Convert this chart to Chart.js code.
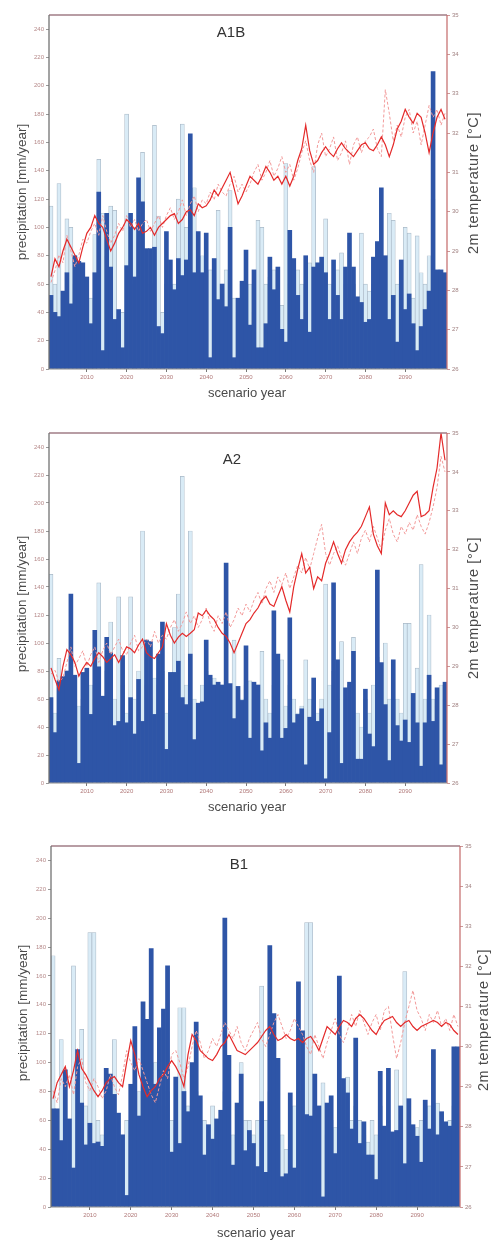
<!DOCTYPE html>
<html><head><meta charset="utf-8">
<script src="https://cdn.jsdelivr.net/npm/chart.js@4.4.1/dist/chart.umd.min.js"></script>
<style>
body{margin:0;background:#fff;}
.p{position:absolute;left:0;width:494px;}
canvas{display:block;}
</style></head><body>
<div class="p" style="top:0;height:400px"><canvas id="c1" width="494" height="400"></canvas></div>
<div class="p" style="top:400px;height:420px"><canvas id="c2" width="494" height="420"></canvas></div>
<div class="p" style="top:820px;height:421px"><canvas id="c3" width="494" height="421"></canvas></div>
<script>
// ---------- categories & tick labels ----------
const years = [];
for (let y = 2001; y <= 2100; y++) years.push(y);
const decadeTicks = [2010, 2020, 2030, 2040, 2050, 2060, 2070, 2080, 2090];
const precipTicks = [0, 20, 40, 60, 80, 100, 120, 140, 160, 180, 200, 220, 240];
const tempTicks = [26, 27, 28, 29, 30, 31, 32, 33, 34, 35];

// ---------- A1B ----------
const a1bPrecipRun1 = [
 52, 40, 37, 55, 68, 46, 80, 76, 75, 65,
 32, 68,125, 13,110, 72, 35, 42, 15, 73,
110, 65,135,118, 85, 85, 86, 30, 25, 97,
 77, 56, 78, 66, 77,166, 68, 97, 68, 96,
  8, 78, 49, 60, 44,100,  8, 50, 62, 84,
 31, 70, 15, 15, 32, 79, 56, 72, 28, 19,
 98, 78, 52, 35, 80, 26, 72, 75, 79, 68,
 35, 77, 52, 35, 72, 96, 72, 51, 47, 33,
 35, 79, 90,128, 80, 35, 52, 19, 77, 42,
 53, 32, 13, 30, 42, 55,210, 70, 70, 68];
const a1bPrecipRun2 = [
115, 60,131, 50,106,100, 60, 70, 55, 45,
 50, 95,148,110, 80,115,112, 30, 40,180,
 60,100, 90,153, 70, 60,172,108, 40, 60,
 50, 60,120,173,100, 60,128, 55, 80, 40,
 70, 60,112, 50, 70,126, 50, 40, 60, 50,
 60, 40,105,100, 60, 65, 70, 50, 45,145,
 60, 50, 70, 60, 40, 75,143, 60, 50,106,
 60, 40, 70, 82, 60, 50, 60, 45, 96, 60,
 55, 60, 70, 60, 50,110,105, 60, 40,100,
 96, 50, 94, 68, 60, 80,120, 60, 50, 55];
const a1bTempRun1 = [
28.35,28.8,28.6,29.0,29.3,29.1,28.9,28.7,29.1,29.45,
29.6,29.9,29.7,29.6,29.3,29.0,29.2,29.45,29.6,29.8,
29.7,29.55,29.7,29.45,29.5,29.6,29.4,29.6,29.7,29.8,
29.9,29.95,29.7,29.8,30.0,30.05,29.9,30.2,30.1,30.15,
30.3,30.55,30.4,30.6,30.8,31.0,30.6,30.2,30.4,30.65,
30.9,30.8,30.7,30.9,31.15,31.0,30.8,30.9,30.7,30.9,
30.65,30.9,31.3,31.6,32.2,31.55,31.2,31.3,31.5,31.65,
31.5,31.4,31.6,31.75,31.6,31.5,31.4,31.55,31.7,31.75,
31.6,31.55,31.7,31.9,31.7,31.4,31.7,32.1,32.3,32.6,
32.4,32.25,32.5,32.4,32.0,31.5,32.0,32.4,32.6,32.35];
const a1bTempRun2 = [
28.2,28.5,28.9,28.7,29.4,29.0,28.6,28.9,29.3,29.2,
29.5,29.7,29.4,29.9,29.5,29.2,29.4,29.7,29.5,29.9,
29.6,29.8,29.5,29.7,29.8,29.5,29.7,29.9,29.6,29.9,
30.1,29.8,30.0,30.3,29.9,30.2,30.4,30.0,30.3,30.2,
30.5,30.3,30.7,30.5,30.4,30.7,30.9,30.5,30.7,30.5,
30.7,31.0,31.2,30.8,31.0,31.3,30.9,31.1,31.4,31.0,
31.2,30.8,31.1,31.5,31.8,31.3,31.0,31.7,32.0,31.4,
31.6,31.9,31.3,31.5,31.8,31.2,31.7,31.9,31.5,31.8,
31.9,32.1,31.6,31.4,33.1,32.5,31.8,32.2,31.9,32.4,
32.6,32.0,32.3,31.7,32.2,32.7,32.4,32.6,32.2,32.5];

// ---------- A2 ----------
const a2PrecipRun1 = [
 61, 36, 73, 76, 80,135, 77, 14, 79, 82,
 49,109, 83, 62,104, 93, 41, 44, 91, 43,
 61, 35, 74, 44,102,101, 49, 92,115, 24,
 79, 79, 87, 61, 56, 92, 31, 57, 58,102,
 77, 70, 72, 70,157, 71, 46, 69, 59, 98,
 32, 72, 70, 23, 43, 32,123, 92, 32, 39,
118, 43, 49, 53, 13, 47, 75, 44, 53,  3,
 36,143, 88, 14, 68, 72, 94, 17, 17, 67,
 35, 26,152, 86, 56, 16, 88, 41, 30, 45,
 29, 64, 43, 12, 43, 77, 44, 68, 13, 72];
const a2PrecipRun2 = [
149, 50, 89, 60, 70, 90, 60, 55, 60, 45,
 70, 60,143, 55, 80,115, 60,133, 70, 50,
133, 60, 80,180, 70, 60, 75, 70, 80, 50,
 60,111,135,219, 70,180, 60, 50, 70, 80,
 60, 75, 60, 70,100, 60,102, 50, 60, 70,
 73, 60, 50, 94, 60, 50, 70, 60, 88, 55,
 70, 60, 50, 55, 88, 60, 55, 50, 60,142,
 70, 80, 60,101, 60, 70,104, 50, 40, 60,
 50, 70, 90, 70,100, 60, 55, 60, 50,114,
114, 60, 82,156, 60,120, 60, 55, 70, 60];
const a2TempRun1 = [
28.96,28.66,28.4,29.0,29.43,29.3,29.1,28.75,28.95,29.1,
29.0,29.2,29.35,29.25,29.1,29.2,29.3,29.1,29.3,29.5,
29.45,29.35,29.55,29.7,29.35,29.25,29.2,29.35,29.5,30.1,
29.8,29.6,29.75,29.85,29.77,29.85,29.94,30.37,30.3,30.45,
30.3,30.2,30.0,29.85,29.77,29.6,29.35,29.6,29.85,30.1,
30.2,30.37,30.5,30.7,30.8,30.6,30.54,30.8,31.05,30.7,
30.4,31.05,31.5,31.9,31.4,31.55,31.0,31.3,31.2,31.65,
31.9,32.2,31.9,31.65,32.0,32.2,32.34,32.45,32.6,32.85,
33.1,32.4,32.1,31.9,33.2,32.9,33.0,32.9,32.85,33.0,
33.2,33.4,33.5,32.85,32.9,33.0,33.6,34.1,35.0,34.3];
const a2TempRun2 = [
28.8,28.9,28.6,28.7,29.1,29.5,29.0,29.2,29.4,29.0,
29.3,29.5,29.1,29.4,29.6,29.3,29.5,29.7,29.4,29.3,
29.6,29.8,29.4,29.5,29.7,29.5,29.9,29.6,29.8,29.7,
30.0,30.2,29.9,30.1,30.4,30.1,30.3,30.0,30.2,30.5,
30.1,29.9,30.3,30.1,30.4,30.0,30.2,30.5,30.3,30.6,
30.4,30.7,30.9,30.6,31.0,31.2,30.9,31.3,31.1,31.4,
31.0,31.3,31.6,31.4,31.8,31.5,31.9,32.3,32.65,31.9,
31.6,31.9,32.1,31.8,31.6,31.9,32.2,31.9,32.3,32.5,
32.2,32.6,32.3,32.0,32.5,32.8,32.4,32.2,32.6,32.4,
32.7,32.5,32.9,32.6,32.4,32.7,33.1,33.6,34.4,34.0];

// ---------- B1 ----------
const b1PrecipRun1 = [
 68, 68, 46, 95, 61, 27,109, 72, 43, 58,
 44, 45, 42, 96, 92, 78, 65, 50,  8, 85,
125, 63,142,130,179, 85,124,137,167, 38,
 90, 44, 80, 66,100,128, 77, 36, 57, 47,
 61, 67,200,105, 29, 72, 92, 39, 53, 44,
 28, 73, 24,181,134,103, 21, 23, 79, 27,
156,122, 64, 63, 92, 70,  7, 72, 77, 37,
160, 89, 79, 54,117, 44, 59, 36, 36, 19,
 94, 56, 96, 52, 53, 70, 30, 75, 57, 49,
 31, 74, 54,109, 50, 66, 59, 56,111,111];
const b1PrecipRun2 = [
174, 60,116, 50, 55,167, 60,123, 70,190,
190, 60, 50, 55, 70,116, 50, 40, 60, 55,
 70, 80, 60, 90, 70,100, 60, 70, 80, 60,
 55,138,138, 70, 60, 80, 50, 60, 50, 70,
 55, 60, 80, 60, 50, 70,100, 60, 60, 50,
 60,153, 60, 80, 70, 60, 50, 40, 60, 70,
 80, 60,197,197, 70, 60, 86, 50, 60, 55,
 70, 60, 90, 60, 70, 60, 50, 45, 60, 50,
 70, 55, 60, 50, 95, 60,163, 60, 50, 55,
 60, 50, 70, 60, 72, 60, 50, 60, 70, 60];
const b1TempRun1 = [
28.7,29.1,29.3,29.5,29.0,29.4,29.9,29.45,29.3,29.1,
28.9,28.75,28.9,29.1,29.2,29.25,29.1,29.0,29.6,30.15,
29.8,29.3,29.0,28.75,28.9,29.0,29.2,29.3,29.5,29.65,
29.5,29.3,29.0,29.8,30.3,30.15,29.9,29.8,29.7,29.65,
29.8,30.0,30.1,30.3,30.1,29.9,29.85,29.8,29.9,30.0,
30.1,30.25,30.4,30.5,30.3,30.15,30.2,30.3,30.2,30.15,
30.2,30.1,30.2,30.25,30.1,29.9,30.2,30.5,30.4,30.3,
30.5,30.65,30.6,30.5,30.7,30.8,30.7,30.55,30.4,30.3,
30.5,30.65,30.7,30.75,30.6,30.5,30.6,30.65,30.5,30.4,
30.5,30.55,30.6,30.65,30.6,30.5,30.6,30.55,30.4,30.3];
const b1TempRun2 = [
28.9,28.6,29.2,29.0,29.3,28.8,29.5,29.7,29.1,28.9,
29.2,29.0,28.7,28.9,29.3,29.0,28.8,29.3,29.9,29.6,
29.4,29.7,29.4,29.1,28.8,28.6,29.0,29.4,29.2,29.8,
29.9,29.6,29.2,29.5,30.0,30.4,30.1,29.7,29.9,30.2,
30.0,30.3,30.6,30.4,30.2,30.5,30.1,29.9,30.2,30.4,
30.6,30.2,30.0,30.3,30.6,30.8,30.5,30.2,30.4,30.7,
30.5,30.3,30.0,29.8,30.3,30.0,29.7,30.1,30.4,30.7,
30.3,30.1,30.4,30.8,30.5,30.9,30.6,30.3,30.6,30.8,
30.4,30.9,31.0,30.3,29.7,30.1,30.6,31.0,31.4,30.9,
30.7,30.4,30.8,30.6,30.9,30.5,30.7,30.4,30.8,30.5];

// ---------- drawing ----------
const FONT = "'Liberation Sans', Arial, Helvetica, sans-serif";

function line(ctx, x1, y1, x2, y2, color, w) {
  ctx.beginPath(); ctx.strokeStyle = color; ctx.lineWidth = w;
  ctx.moveTo(x1, y1); ctx.lineTo(x2, y2); ctx.stroke();
}

function makePanel(id, P) {
  const framePlugin = {
    id: 'frame',
    afterDraw(chart) {
      const c = chart.ctx, a = chart.chartArea;
      c.save();
      line(c, a.left, a.top, a.right, a.top, '#a07c86', 1.3);
      line(c, a.right, a.top, a.right, a.bottom, '#c87474', 1.3);
      line(c, a.left, a.bottom, a.right, a.bottom, '#8a8a8a', 1.2);
      line(c, a.left, a.top, a.left, a.bottom, '#727272', 1.3);
      // texts
      c.fillStyle = '#333';
      c.textAlign = 'center'; c.textBaseline = 'middle';
      c.font = '15px ' + FONT;
      c.fillText(P.title, P.titleX, P.titleY);
      c.fillStyle = '#4a4a4a';
      c.font = '13px ' + FONT;
      c.fillText('scenario year', P.xTitleX, P.xTitleY);
      c.save();
      c.translate(P.yTitleX, P.yTitleY); c.rotate(-Math.PI / 2);
      c.font = '13.5px ' + FONT;
      c.fillText('precipitation [mm/year]', 0, 0);
      c.restore();
      c.save();
      c.translate(P.y2TitleX, P.y2TitleY); c.rotate(-Math.PI / 2);
      c.font = '14.5px ' + FONT;
      try { c.letterSpacing = '0.6px'; } catch (e) {}
      c.fillText('2m temperature [°C]', 0, 0);
      c.restore();
      c.restore();
    }
  };
  const tickFont = { size: 6, family: FONT };
  new Chart(document.getElementById(id), {
    data: {
      labels: years,
      datasets: [
        { type: 'line', data: P.t1, yAxisID: 'y2', borderColor: '#e42a2a', borderWidth: 1.2,
          pointRadius: 0, tension: 0, order: 0 },
        { type: 'line', data: P.t2, yAxisID: 'y2', borderColor: '#f29a9a', borderWidth: 1,
          borderDash: [3, 2], pointRadius: 0, tension: 0, order: 1 },
        { type: 'bar', data: P.dark, yAxisID: 'y', backgroundColor: '#2e55a7',
          borderWidth: 0, grouped: false, barPercentage: 1, categoryPercentage: 1, order: 2 },
        { type: 'bar', data: P.pale, yAxisID: 'y', backgroundColor: '#d9ebf6',
          borderColor: '#a9b8c6', borderWidth: 0.7, grouped: false,
          barPercentage: 1, categoryPercentage: 1, order: 3 }
      ]
    },
    options: {
      responsive: false, animation: false,
      layout: { padding: { top: P.top, left: 0, right: 0, bottom: 0 } },
      plugins: { legend: { display: false }, tooltip: { enabled: false } },
      scales: {
        x: {
          type: 'category', offset: true,
          grid: { display: true, drawOnChartArea: false, offset: false, tickLength: 3,
            color: (ctx) => decadeTicks.includes(years[ctx.index]) ? '#777' : 'rgba(0,0,0,0)' },
          border: { display: false },
          ticks: { autoSkip: false, maxRotation: 0, minRotation: 0, padding: 2,
            font: tickFont, color: '#b07878',
            callback: (v, i) => decadeTicks.includes(years[i]) ? String(years[i]) : '' },
          afterFit: (s) => { s.height = P.xh; }
        },
        y: {
          position: 'left', min: 0, max: 250,
          grid: { display: true, drawOnChartArea: false, tickLength: 3, color: '#999' },
          border: { display: false },
          ticks: { stepSize: 20, includeBounds: false, padding: 2, font: tickFont, color: '#b58888' },
          afterBuildTicks: (s) => { s.ticks = precipTicks.map(v => ({ value: v })); },
          afterFit: (s) => { s.width = P.left; }
        },
        y2: {
          position: 'right', min: 26, max: 35,
          grid: { display: true, drawOnChartArea: false, tickLength: 3, color: '#c99' },
          border: { display: false },
          ticks: { stepSize: 1, padding: 2, font: tickFont, color: '#a08080' },
          afterBuildTicks: (s) => { s.ticks = tempTicks.map(v => ({ value: v })); },
          afterFit: (s) => { s.width = P.right; }
        }
      }
    },
    plugins: [framePlugin]
  });
}

makePanel('c1', { title: 'A1B', dark: a1bPrecipRun1, pale: a1bPrecipRun2, t1: a1bTempRun1, t2: a1bTempRun2,
  top: 15, left: 49, right: 47, xh: 31,
  titleX: 231, titleY: 33, xTitleX: 247, xTitleY: 393, yTitleX: 22, yTitleY: 192, y2TitleX: 474, y2TitleY: 183 });
makePanel('c2', { title: 'A2', dark: a2PrecipRun1, pale: a2PrecipRun2, t1: a2TempRun1, t2: a2TempRun2,
  top: 33, left: 49, right: 47, xh: 37,
  titleX: 232, titleY: 60, xTitleX: 247, xTitleY: 407, yTitleX: 22, yTitleY: 204, y2TitleX: 474, y2TitleY: 208 });
makePanel('c3', { title: 'B1', dark: b1PrecipRun1, pale: b1PrecipRun2, t1: b1TempRun1, t2: b1TempRun2,
  top: 26, left: 51, right: 34, xh: 34,
  titleX: 239, titleY: 45, xTitleX: 256, xTitleY: 413, yTitleX: 23, yTitleY: 193, y2TitleX: 484, y2TitleY: 200 });
</script>
</body></html>
